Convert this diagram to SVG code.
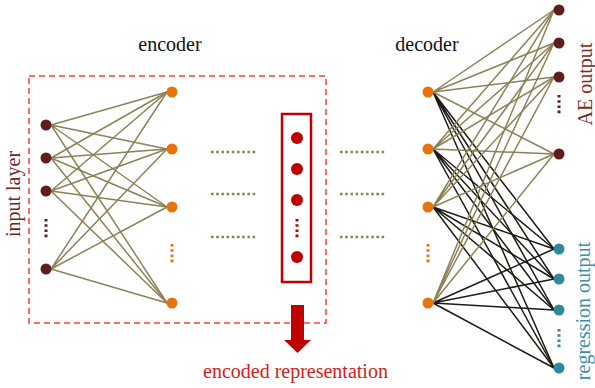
<svg xmlns="http://www.w3.org/2000/svg" width="595" height="388" viewBox="0 0 595 388">
  <defs>
    <style>
      .lbl { font-family: "Liberation Serif", "Times New Roman", serif; font-size: 20px; }
      .olive { stroke: #8c8157; stroke-width: 1.5; fill: none; }
      .dark { stroke: #1e1a14; stroke-width: 1.5; fill: none; }
      .brown { fill: #5e1e1e; }
      .orange { fill: #e8720c; }
      .teal { fill: #2f87a0; }
      .red { fill: #c00000; }
      .vdots { stroke-width: 3; stroke-dasharray: 2.6 2.6; fill: none; }
      .hdots { stroke: #8c8157; stroke-width: 2.6; stroke-dasharray: 2.6 2.6; fill: none; }
    </style>
  </defs>

  <rect width="595" height="388" fill="#ffffff"/>

  <!-- encoder region outline -->
  <rect id="encoder-region" x="29" y="76" width="297" height="247" fill="none" stroke="#ff3b3b" stroke-width="1.5" stroke-dasharray="6 4"/>

  <!-- connectors: each runs from the right edge of its source node to the left edge of its target -->
  <g id="connectors">
    <!-- input -> hidden -->
    <g class="olive">
      <path d="M51 125L167 92M51 125L167 149M51 125L167 207M51 125L167 303"/>
      <path d="M51 158L167 92M51 158L167 149M51 158L167 207M51 158L167 303"/>
      <path d="M51 191L167 92M51 191L167 149M51 191L167 207M51 191L167 303"/>
      <path d="M51 269L167 92M51 269L167 149M51 269L167 207M51 269L167 303"/>
    </g>
    <!-- decoder hidden -> regression output -->
    <g class="dark">
      <path d="M433 92L554 249M433 92L554 279M433 92L554 310M433 92L554 368"/>
      <path d="M433 149L554 249M433 149L554 279M433 149L554 310M433 149L554 368"/>
      <path d="M433 207L554 249M433 207L554 279M433 207L554 310M433 207L554 368"/>
      <path d="M433 303L554 249M433 303L554 279M433 303L554 310M433 303L554 368"/>
    </g>
    <!-- decoder hidden -> AE output -->
    <g class="olive">
      <path d="M433 92L554 10M433 92L554 43M433 92L554 77M433 92L554 154"/>
      <path d="M433 149L554 10M433 149L554 43M433 149L554 77M433 149L554 154"/>
      <path d="M433 207L554 10M433 207L554 43M433 207L554 77M433 207L554 154"/>
      <path d="M433 303L554 10M433 303L554 43M433 303L554 77M433 303L554 154"/>
    </g>
    <!-- elided layers -->
    <path class="hdots" d="M211 152H256M211 194H256M211 237H256"/>
    <path class="hdots" d="M340 152H385M340 194H385M340 237H385"/>
  </g>

  <!-- input layer -->
  <g id="input-layer">
    <circle class="brown" cx="46" cy="125" r="5.5"/>
    <circle class="brown" cx="46" cy="158" r="5.5"/>
    <circle class="brown" cx="46" cy="191" r="5.5"/>
    <circle class="brown" cx="46" cy="269" r="5.5"/>
    <path class="vdots" stroke="#5e1e1e" d="M46 219V239"/>
    <text class="lbl" fill="#6e2626" transform="translate(20 194) rotate(-90)" text-anchor="middle">input layer</text>
  </g>

  <!-- first hidden layer -->
  <g id="encoder-hidden">
    <circle class="orange" cx="172" cy="92" r="5.5"/>
    <circle class="orange" cx="172" cy="149" r="5.5"/>
    <circle class="orange" cx="172" cy="207" r="5.5"/>
    <circle class="orange" cx="172" cy="303" r="5.5"/>
    <path class="vdots" stroke="#e8720c" d="M172 244V264"/>
  </g>

  <!-- bottleneck -->
  <g id="encoded">
    <rect x="282" y="114" width="29" height="168" fill="none" stroke="#c00000" stroke-width="2.5"/>
    <circle class="red" cx="297" cy="138" r="6"/>
    <circle class="red" cx="297" cy="169" r="6"/>
    <circle class="red" cx="297" cy="200" r="6"/>
    <circle class="red" cx="297" cy="257" r="6"/>
    <path class="vdots" stroke="#c00000" d="M297 219V239"/>
  </g>

  <!-- arrow and caption -->
  <g id="encoded-representation">
    <polygon class="red" points="291,305 304,305 304,340 311,340 297.5,353 284,340 291,340"/>
    <text class="lbl" fill="#d42020" x="203" y="378">encoded representation</text>
  </g>

  <!-- decoder hidden layer -->
  <g id="decoder-hidden">
    <circle class="orange" cx="428" cy="92" r="5.5"/>
    <circle class="orange" cx="428" cy="149" r="5.5"/>
    <circle class="orange" cx="428" cy="207" r="5.5"/>
    <circle class="orange" cx="428" cy="303" r="5.5"/>
    <path class="vdots" stroke="#e8720c" d="M428 244V264"/>
  </g>

  <!-- autoencoder output -->
  <g id="ae-output">
    <circle class="brown" cx="559" cy="10" r="5.5"/>
    <circle class="brown" cx="559" cy="43" r="5.5"/>
    <circle class="brown" cx="559" cy="77" r="5.5"/>
    <circle class="brown" cx="559" cy="154" r="5.5"/>
    <path class="vdots" stroke="#5e1e1e" d="M559 95V115"/>
    <text class="lbl" fill="#7a2a2a" transform="translate(592 84) rotate(-90)" text-anchor="middle">AE output</text>
  </g>

  <!-- regression output -->
  <g id="regression-output">
    <circle class="teal" cx="559" cy="249" r="5.5"/>
    <circle class="teal" cx="559" cy="279" r="5.5"/>
    <circle class="teal" cx="559" cy="310" r="5.5"/>
    <circle class="teal" cx="559" cy="368" r="5.5"/>
    <path class="vdots" stroke="#2f87a0" d="M559 329V349"/>
    <text class="lbl" fill="#3a8fa8" transform="translate(590 311) rotate(-90)" text-anchor="middle">regression output</text>
  </g>

  <!-- section titles -->
  <g id="titles">
    <text class="lbl" fill="#111111" x="170" y="51" text-anchor="middle">encoder</text>
    <text class="lbl" fill="#111111" x="427" y="51" text-anchor="middle">decoder</text>
  </g>
</svg>
